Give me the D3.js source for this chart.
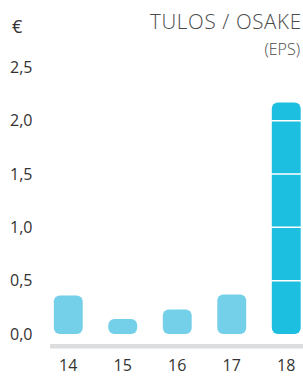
<!DOCTYPE html>
<html>
<head>
<meta charset="utf-8">
<script src="https://cdn.jsdelivr.net/npm/d3@7"></script>
<style>
  html, body { margin: 0; padding: 0; background: #fff; }
  svg { display: block; font-family: "Open Sans", "DejaVu Sans", sans-serif; }
</style>
</head>
<body>
<script>
// Data
const years = ["14", "15", "16", "17", "18"];
const eps = [0.36, 0.14, 0.23, 0.37, 2.17];
const highlight = [false, false, false, false, true];
const yTicks = [0, 0.5, 1.0, 1.5, 2.0, 2.5];

const width = 303;
const height = 376;

const svg = d3.select("body")
    .append("svg")
    .attr("width", width)
    .attr("height", height);

// Scales
const x = d3.scaleBand()
    .domain(years)
    .range([41, 313.5])
    .paddingInner(0.47)
    .paddingOuter(0.235);

const y = d3.scaleLinear()
    .domain([0, 2.5])
    .range([334, 67.3]);

const fmt = v => d3.format(".1f")(v).replace(".", ",");

// Bars
svg.append("g")
    .selectAll("rect")
    .data(years)
    .enter()
    .append("rect")
    .attr("x", d => x(d))
    .attr("y", (d, i) => y(eps[i]))
    .attr("width", x.bandwidth())
    .attr("height", (d, i) => y(0) - y(eps[i]))
    .attr("rx", (d, i) => Math.min(6, (y(0) - y(eps[i])) / 2))
    .attr("fill", (d, i) => highlight[i] ? "#1cbfe0" : "#74cfe8");

// White grid lines (only visible across bars)
svg.append("g")
    .selectAll("line")
    .data(yTicks.filter(t => t > 0))
    .enter()
    .append("line")
    .attr("x1", 45)
    .attr("x2", width)
    .attr("y1", d => y(d))
    .attr("y2", d => y(d))
    .style("stroke", "#fff")
    .style("stroke-width", 1.5);

// Y tick labels
svg.append("g")
    .selectAll("text")
    .data(yTicks)
    .enter()
    .append("text")
    .attr("x", 10)
    .attr("y", d => y(d))
    .attr("dy", "0.35em")
    .text(fmt)
    .style("font-size", "16px")
    .style("fill", "#333");

// X axis line
svg.append("rect")
    .attr("x", 50)
    .attr("y", 344)
    .attr("width", width - 50)
    .attr("height", 4.5)
    .attr("fill", "#dcdddf");

// X tick labels
svg.append("g")
    .selectAll("text")
    .data(years)
    .enter()
    .append("text")
    .attr("x", d => x(d) + x.bandwidth() / 2)
    .attr("y", 365)
    .attr("dy", "0.35em")
    .attr("text-anchor", "middle")
    .text(d => d)
    .style("font-size", "16px")
    .style("fill", "#333");

// Unit
svg.append("text")
    .attr("x", 12)
    .attr("y", 33)
    .text("€")
    .style("font-size", "18px")
    .style("fill", "#333");

// Title
svg.append("text")
    .attr("x", 150)
    .attr("y", 29)
    .attr("textLength", 151)
    .attr("lengthAdjust", "spacing")
    .text("TULOS / OSAKE")
    .style("font-size", "20.5px")
    .style("font-weight", 300)
    .style("fill", "#4a4a4a");

svg.append("text")
    .attr("x", 300)
    .attr("y", 55)
    .attr("text-anchor", "end")
    .text("(EPS)")
    .style("font-size", "16px")
    .style("font-weight", 300)
    .style("fill", "#4a4a4a");
</script>
</body>
</html>
